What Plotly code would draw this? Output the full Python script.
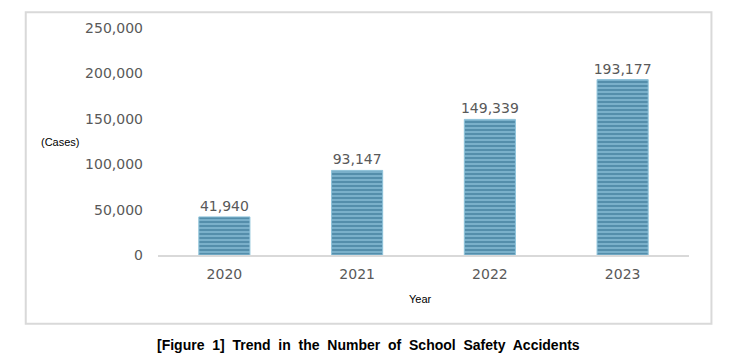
import plotly.graph_objects as go

years = ["2020", "2021", "2022", "2023"]
cases = [41940, 93147, 149339, 193177]
value_labels = ["41,940", "93,147", "149,339", "193,177"]
y_ticks = [0, 50000, 100000, 150000, 200000, 250000]
y_tick_labels = ["0", "50,000", "100,000", "150,000", "200,000", "250,000"]
caption_words = ["[Figure", "1]", "Trend", "in", "the", "Number", "of", "School", "Safety", "Accidents"]

OFF = 8  # page body margin
W, H = 736 - OFF, 361 - OFF
L, R, T, B = 157.5 - OFF, 46.5, 24 - OFF, 106
pw, ph = W - L - R, H - T - B

def px_x(x):
    return (x - OFF - L) / pw

def px_y(y):
    return (H - B - (y - OFF)) / ph

fig = go.Figure()
fig.add_trace(go.Bar(
    x=years, y=cases,
    text=value_labels, textposition="outside",
    textfont=dict(family="DejaVu Sans", size=14, color="#595959"),
    constraintext="none",
    cliponaxis=False,
    marker=dict(
        color="#7db3cd",
        line=dict(color="#8fc3da", width=1),
        pattern=dict(shape="-", fgcolor="#2c6a8a", bgcolor="#7db3cd", size=4, solidity=0.55),
    ),
    width=0.385,
))

caption = "<b>" + "&nbsp; ".join(caption_words) + "</b>"

fig.update_layout(
    width=W, height=H,
    margin=dict(l=L, r=R, t=T, b=B),
    paper_bgcolor="white", plot_bgcolor="white",
    showlegend=False,
    xaxis=dict(
        showline=True, linecolor="#d9d9d9", linewidth=1.5,
        tickfont=dict(family="DejaVu Sans", size=14, color="#595959"),
        ticks="", ticklabelstandoff=5, showgrid=False,
    ),
    yaxis=dict(
        range=[0, 250000], tickvals=y_ticks, ticktext=y_tick_labels,
        tickfont=dict(family="DejaVu Sans", size=14, color="#595959"),
        showgrid=False, zeroline=False, showline=False,
        ticks="", ticklabelstandoff=14,
    ),
    shapes=[dict(
        type="rect", xref="paper", yref="paper",
        x0=px_x(25), x1=px_x(712), y0=px_y(325), y1=px_y(8),
        line=dict(color="#d9d9d9", width=2), fillcolor="rgba(0,0,0,0)", layer="below",
    )],
    annotations=[
        dict(text="(Cases)", xref="paper", yref="paper", x=px_x(38), y=px_y(140),
             xanchor="left", yanchor="middle", showarrow=False,
             font=dict(family="Arial", size=11, color="black")),
        dict(text="Year", xref="paper", yref="paper", x=px_x(420), y=px_y(300),
             xanchor="center", yanchor="middle", showarrow=False,
             font=dict(family="Arial", size=11, color="black")),
        dict(text=caption,
             xref="paper", yref="paper", x=px_x(368), y=px_y(347),
             xanchor="center", yanchor="middle", showarrow=False,
             font=dict(family="Arial", size=14, color="black")),
    ],
)

fig.write_html("out.html")
